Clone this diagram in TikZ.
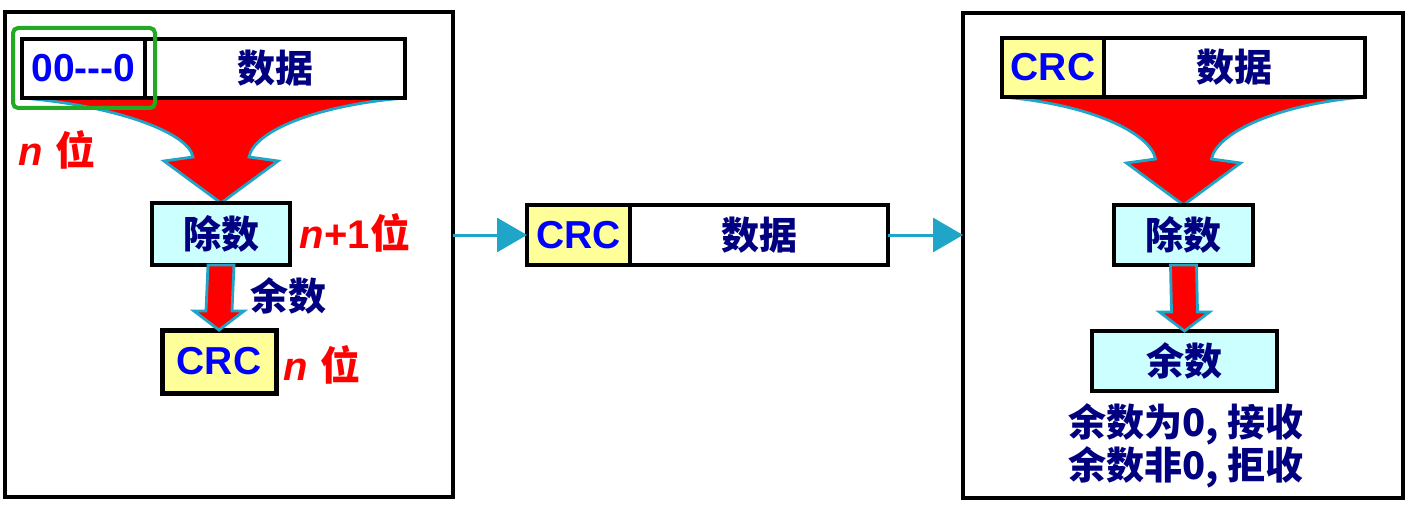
\documentclass[tikz,border=0pt]{standalone}
\usepackage{fontspec}
\setmainfont{Liberation Sans}
\newfontfamily\cjk{Noto Sans CJK SC}
\usetikzlibrary{calc,arrows.meta}
\pgfdeclarelayer{background}
\pgfsetlayers{background,main}
\definecolor{navytxt}{RGB}{0,0,128}
\definecolor{bluetxt}{RGB}{0,0,255}
\definecolor{redtxt}{RGB}{255,0,0}
\definecolor{cyanfill}{RGB}{204,255,255}
\definecolor{yellowfill}{RGB}{255,255,153}
\definecolor{arrowcyan}{RGB}{30,165,200}
\definecolor{framegreen}{RGB}{34,170,34}
\newcommand\mycn[1]{{\cjk #1}}
\newcommand\fanarrow[3]{% top-left, top-right, target
  \filldraw[fan] (#1) .. controls ($(#1)+(88,7)$) and ($(#3)+(-33,-72)$) .. ($(#3)+(-28,-46)$)
    -- ($(#3)+(-57,-42)$) -- (#3) -- ($(#3)+(57,-42)$) -- ($(#3)+(28,-46)$)
    .. controls ($(#3)+(33,-72)$) and ($(#2)+(-88,7)$) .. (#2) -- cycle;}
\newcommand\smallarrow[2]{% from, to
  \filldraw[fan] ($(#1.south)+(-13,0)$) -- ($(#2.north)+(-13,-19)$) -- ($(#2.north)+(-25,-19)$)
    -- (#2.north) -- ($(#2.north)+(25,-19)$) -- ($(#2.north)+(13,-19)$) -- ($(#1.south)+(13,0)$) -- cycle;}
\begin{document}
\begin{tikzpicture}[x=0.5pt,y=-0.5pt,
  panel/.style={draw=black, line width=1.6pt, inner sep=0pt, outer sep=0pt},
  cell/.style={draw=black, line width=2pt, inner sep=0pt, outer sep=0pt, minimum height=29.5pt},
  zhtxt/.style={font=\cjk\bfseries\fontsize{19pt}{23pt}\selectfont, text=navytxt},
  crctxt/.style={font=\bfseries\fontsize{19.5pt}{23pt}\selectfont, text=bluetxt},
  redlbl/.style={font=\bfseries\fontsize{20pt}{24pt}\selectfont, text=redtxt, inner sep=0pt},
  fan/.style={fill=red, draw=arrowcyan, line width=1.4pt, line join=miter},
  conn/.style={draw=arrowcyan, line width=1.5pt, -{Triangle[length=15pt,width=17pt]}},
]
\begin{pgfonlayer}{background}
\fill[white] (0,0) rectangle (1408,508);
\end{pgfonlayer}
\useasboundingbox (0,0) rectangle (1408,508);

% panels
\node[panel, minimum width=224pt, minimum height=242.5pt] (lpanel) at (229,254.5) {};
\node[panel, minimum width=220pt, minimum height=242.5pt] (rpanel) at (1183,255.5) {};

% left panel boxes
\node[cell, fill=white, minimum width=61.5pt, crctxt] (zeros) at (83.5,68.5) {00{-}{-}{-}0};
\node[cell, fill=white, minimum width=130pt, zhtxt] (ldata) at (275,68.5) {数据};
\node[cell, fill=cyanfill, minimum width=69pt, minimum height=31pt, zhtxt] (ldiv) at (221,234) {除数};
\node[cell, fill=yellowfill, line width=2.5pt, minimum width=57pt, minimum height=31.5pt, crctxt] (lcrc) at (219,361.5) {CRC};

% middle frame
\node[cell, fill=yellowfill, minimum width=51.5pt, minimum height=30pt, crctxt] (mcrc) at (578.5,235) {CRC};
\node[cell, fill=white, minimum width=129pt, minimum height=30pt, zhtxt] (mdata) at (759,235) {数据};

% right panel boxes
\node[cell, fill=yellowfill, minimum width=51pt, crctxt] (rcrc) at (1053,67.5) {CRC};
\node[cell, fill=white, minimum width=130.5pt, zhtxt] (rdata) at (1234.5,67.5) {数据};
\node[cell, fill=cyanfill, minimum width=69.5pt, minimum height=30pt, zhtxt] (rdiv) at (1183.5,235) {除数};
\node[cell, fill=cyanfill, minimum width=92.5pt, minimum height=30pt, zhtxt] (rrem) at (1184.5,361) {余数};

% fan arrows (behind boxes)
\begin{pgfonlayer}{background}
\fanarrow{zeros.south west}{ldata.south east}{ldiv.north}
\fanarrow{rcrc.south west}{rdata.south east}{rdiv.north}
\end{pgfonlayer}
\smallarrow{ldiv}{lcrc}
\smallarrow{rdiv}{rrem}

% connectors between frames
\draw[conn] (lpanel.east |- mcrc.west) -- (mcrc.west);
\draw[conn] (mdata.east) -- (mdata.east -| rpanel.west);

% green highlight
\draw[framegreen, line width=2pt, rounded corners=2.5pt]
  ($(zeros.north west)+(-9,-11)$) rectangle ($(zeros.south east)+(10,10)$);

% labels
\node[redlbl] (lbla) at (57,150) {\textit{n}\hspace{6pt}\mycn{位}};
\node[redlbl] (lblb) at (355,233) {\textit{n}+1\mycn{位}};
\node[zhtxt] (lblc) at (288,296) {余数};
\node[redlbl] (lbld) at (322,365) {\textit{n}\hspace{6pt}\mycn{位}};
\node[zhtxt, align=center, font=\cjk\bfseries\fontsize{19pt}{19pt}\selectfont] (res) at (1186,446) {余数为0, 接收\\余数非0, 拒收};
\end{tikzpicture}
\end{document}
